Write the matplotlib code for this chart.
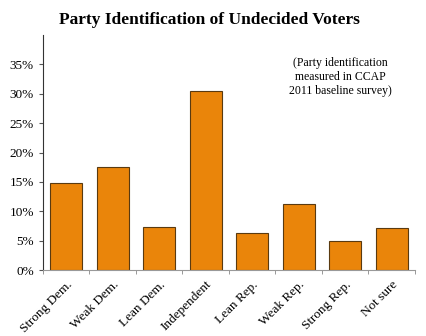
import matplotlib.pyplot as plt
import numpy as np

categories = ['Strong Dem.', 'Weak Dem.', 'Lean Dem.', 'Independent',
              'Lean Rep.', 'Weak Rep.', 'Strong Rep.', 'Not sure']
values = [14.9, 17.6, 7.4, 30.4, 6.4, 11.3, 4.9, 7.1]
yticks = [0, 5, 10, 15, 20, 25, 30, 35]

plt.rcParams['font.family'] = ['Liberation Serif', 'DejaVu Serif']

fig = plt.figure(figsize=(4.27, 3.36), dpi=100)
ax = fig.add_axes([0.1007, 0.196, 0.871, 0.70])

x = np.arange(len(categories))
ax.bar(x, values, width=0.69, color='#EA850A', edgecolor='#5a3a10', linewidth=0.8)

ax.set_xlim(-0.5, len(categories) - 0.5)
ax.set_ylim(0, 40)
ax.set_yticks(yticks)
ax.set_yticklabels([f'{v}%' for v in yticks], fontsize=9.5)
ax.set_xticks(x)
ax.set_xticklabels(categories, rotation=45, ha='right', rotation_mode='anchor', fontsize=9.5)
ax.tick_params(axis='x', length=0, pad=6)
ax.set_xticks(np.arange(-0.5, len(categories)), minor=True)
ax.tick_params(axis='x', which='minor', length=3, color='#888888')
ax.tick_params(axis='y', length=3, color='#555555')

for side in ['top', 'right']:
    ax.spines[side].set_visible(False)
ax.spines['left'].set_color('#333333')
ax.spines['bottom'].set_color('#999999')

fig.text(0.49, 0.94, 'Party Identification of Undecided Voters', ha='center', va='center',
         fontsize=12.5, fontweight='bold')
ax.text(0.80, 0.82, '(Party identification\nmeasured in CCAP\n2011 baseline survey)',
        transform=ax.transAxes, ha='center', va='center', fontsize=8.5, linespacing=1.2)

fig.savefig('out.png', dpi=100)
